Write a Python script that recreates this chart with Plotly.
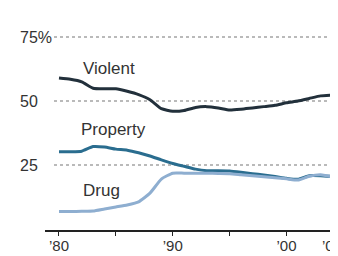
import plotly.graph_objects as go

years = list(range(1980, 2005))
violent = [59, 58.5, 57.5, 55, 54.8, 54.8, 53.8, 52.5, 50.5, 47, 46, 46.3, 47.5, 47.8, 47.3,
           46.5, 46.8, 47.3, 47.8, 48.3, 49.3, 50, 51, 52, 52.3]
property_ = [30.2, 30.2, 30.4, 32.2, 32, 31.2, 30.8, 29.8, 28.5, 27, 25.6, 24.5, 23.4, 22.8, 22.8,
             22.7, 22.2, 21.6, 21.1, 20.5, 19.8, 19.4, 20.8, 20.8, 20.5]
drug = [6.8, 6.8, 6.9, 7, 7.8, 8.6, 9.4, 10.6, 14, 19.5, 21.8, 21.8, 21.8, 21.8, 21.7,
        21.6, 21.2, 20.8, 20.4, 20, 19.6, 19.1, 20.6, 21.2, 20.4]

series_names = ["Violent", "Property", "Drug"]
colors = ["#22303b", "#2a6d8f", "#8eaed0"]
grid_values = [25, 50, 75]
grid_labels = ["25", "50", "75%"]
tick_vals = [1980, 1985, 1990, 1995, 2000, 2004]
tick_text = ["\u201980", "", "\u201990", "", "\u201900", "\u201904"]

OFF = 8  # default page body margin
W, H = 338 - OFF, 256 - OFF
L, R, T, B = 45 - OFF, 0, 20 - OFF, 26
x_range = [1978.77, 2004.53]
y_range = [-0.39, 81.64]

fig = go.Figure()
for name, vals, c in zip(series_names, [violent, property_, drug], colors):
    fig.add_trace(go.Scatter(x=years, y=vals, mode="lines", name=name,
                             line=dict(color=c, width=3, shape="spline", smoothing=0.5),
                             hoverinfo="skip", cliponaxis=False))

font = "Liberation Sans, Arial, sans-serif"
plot_w = W - L - R
plot_h = H - T - B

def px_to_paper_x(px):
    return (px - OFF - L) / plot_w

# gridlines
for v, lab in zip(grid_values, grid_labels):
    fig.add_shape(type="line", xref="paper", yref="y", x0=px_to_paper_x(54), x1=1,
                  y0=v, y1=v, line=dict(color="#777", width=1.2, dash="dot"), layer="below")
    fig.add_annotation(xref="paper", yref="y", x=px_to_paper_x(18), y=v,
                       text=lab, showarrow=False, xanchor="left", yanchor="middle",
                       font=dict(family=font, size=16, color="#333"))

# series labels (page pixel positions)
px_w = (x_range[1] - x_range[0]) / plot_w
px_h = (y_range[1] - y_range[0]) / plot_h
def to_x(px):
    return x_range[0] + (px - OFF - L) * px_w
def to_y(py):
    return y_range[1] - (py - OFF - T) * px_h

for name, (px, py) in zip(series_names, [(81, 68), (79, 129), (81, 190)]):
    fig.add_annotation(x=to_x(px), y=to_y(py), text=name, showarrow=False,
                       xanchor="left", yanchor="middle",
                       font=dict(family=font, size=17, color="#333"))

fig.update_layout(
    width=W, height=H, margin=dict(l=L, r=R, t=T, b=B, autoexpand=False),
    paper_bgcolor="white", plot_bgcolor="white", showlegend=False,
    xaxis=dict(range=x_range, showgrid=False, zeroline=False, showline=True,
               linecolor="#222", linewidth=1.5, ticks="outside", ticklen=4,
               tickcolor="#222", tickwidth=1.2, tickvals=tick_vals, ticktext=tick_text,
               tickfont=dict(family=font, size=15, color="#333"), fixedrange=True,
               automargin=False, ticklabelstandoff=-3, ticklabeloverflow="allow"),
    yaxis=dict(range=y_range, showgrid=False, zeroline=False, showticklabels=False,
               showline=False, fixedrange=True),
)
fig.write_html("out.html")
